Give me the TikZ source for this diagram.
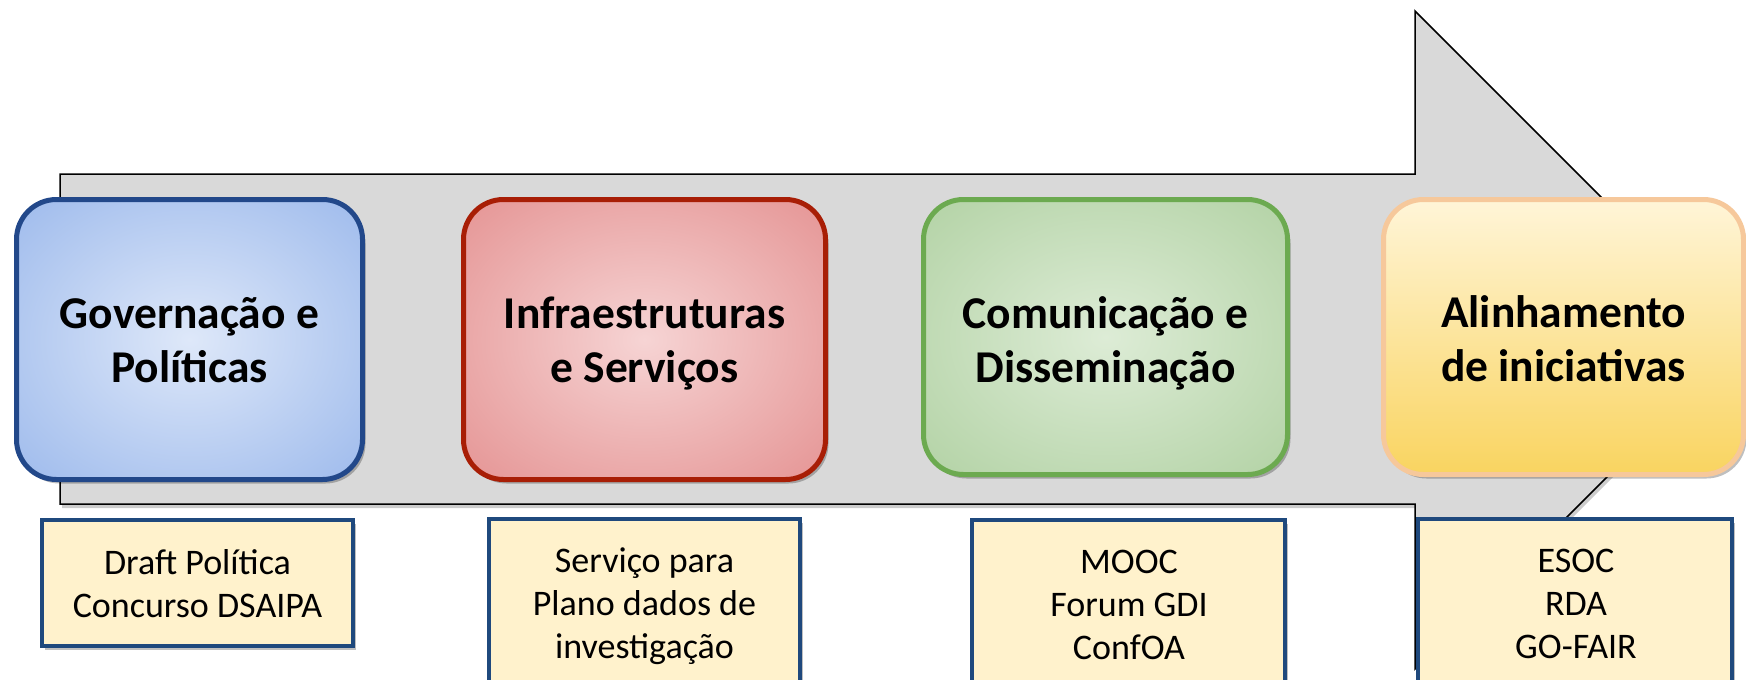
\documentclass[tikz,border=0pt]{standalone}
\usepackage{fontspec}
\setmainfont{Carlito}
\usetikzlibrary{shadows}
\definecolor{arrowgray}{RGB}{217,217,217}
\definecolor{blueIn}{RGB}{222,232,249}
\definecolor{blueOut}{RGB}{118,158,228}
\definecolor{blueLine}{RGB}{34,72,138}
\definecolor{redIn}{RGB}{246,212,212}
\definecolor{redOut}{RGB}{218,108,108}
\definecolor{redLine}{RGB}{168,30,6}
\definecolor{greenIn}{RGB}{221,236,214}
\definecolor{greenOut}{RGB}{152,194,134}
\definecolor{greenLine}{RGB}{108,170,80}
\definecolor{yelTop}{RGB}{255,245,216}
\definecolor{yelBot}{RGB}{249,212,96}
\definecolor{yelLine}{RGB}{246,200,155}
\definecolor{noteFill}{RGB}{255,242,204}
\definecolor{noteLine}{RGB}{31,73,125}
\pgfdeclareradialshading{blueglow}{\pgfpoint{0bp}{0bp}}{color(0bp)=(blueIn); color(58bp)=(blueOut)}
\pgfdeclareradialshading{redglow}{\pgfpoint{0bp}{0bp}}{color(0bp)=(redIn); color(58bp)=(redOut)}
\pgfdeclareradialshading{greenglow}{\pgfpoint{0bp}{0bp}}{color(0bp)=(greenIn); color(58bp)=(greenOut)}
\tikzset{
  mainbox/.style={rectangle, rounded corners=40pt, line width=5pt,
    drop shadow={shadow xshift=3pt, shadow yshift=-4pt, fill=black, opacity=0.25}},
  notebox/.style={rectangle, draw=noteLine, fill=noteFill, line width=4pt,
    drop shadow={shadow xshift=3pt, shadow yshift=-4pt, fill=black, opacity=0.25}},
  title/.style={font=\fontsize{45.5}{54}\selectfont\bfseries, align=center, inner sep=0pt},
  notetext/.style={font=\fontsize{36}{43}\selectfont, align=center, inner sep=0pt},
  bigarrow/.style={fill=arrowgray, draw=black, line width=1.5pt, line join=miter,
    drop shadow={shadow xshift=2pt, shadow yshift=-4pt, fill=black, opacity=0.2}}
}
\begin{document}
\begin{tikzpicture}[x=1pt,y=-1pt]
\useasboundingbox (0,0) rectangle (1746,680);
\fill[white] (0,0) rectangle (1746,680);
% big arrow
\path[bigarrow] (60,174) -- (1415,174) -- (1415,11) -- (1744,340) -- (1415,669) -- (1415,504) -- (60,504) -- cycle;
% main boxes
\node[mainbox, draw=blueLine, shade, shading=blueglow, minimum width=346pt, minimum height=280pt] (b1) at (189.5,339.5) {};
\node[mainbox, draw=redLine, shade, shading=redglow, minimum width=362pt, minimum height=280pt] (b2) at (644.5,339.5) {};
\node[mainbox, draw=greenLine, shade, shading=greenglow, minimum width=364pt, minimum height=275pt] (b3) at (1105.5,337) {};
\node[mainbox, draw=yelLine, top color=yelTop, bottom color=yelBot, minimum width=360pt, minimum height=275pt] (b4) at (1563.5,337) {};
\node[title] (t1) at (189.5,345) {\strut Governação e\\\strut Políticas};
\node[title] (t2) at (644.5,345) {\strut Infraestruturas\\\strut e Serviços};
\node[title] (t3) at (1105.5,344.5) {\strut Comunicação e\\\strut Disseminação};
\node[title] (t4) at (1563.5,344) {\strut Alinhamento\\\strut de iniciativas};
% note boxes
\node[notebox, minimum width=311pt, minimum height=126pt] (n1) at (197.5,583) {};
\node[notebox, minimum width=311pt, minimum height=179pt] (n2) at (644.5,608.5) {};
\node[notebox, minimum width=313pt, minimum height=178pt] (n3) at (1128.5,609) {};
\node[notebox, minimum width=314pt, minimum height=179pt] (n4) at (1575,608.5) {};
\node[notetext] (m1) at (197.5,587) {\strut Draft Política\\\strut Concurso DSAIPA};
\node[notetext] (m2) at (644.5,607) {\strut Serviço para\\\strut Plano dados de\\\strut investigação};
\node[notetext] (m3) at (1129,608) {\strut MOOC\\\strut Forum GDI\\\strut ConfOA};
\node[notetext] (m4) at (1576,607) {\strut ESOC\\\strut RDA\\\strut GO-FAIR};
\end{tikzpicture}
\end{document}
